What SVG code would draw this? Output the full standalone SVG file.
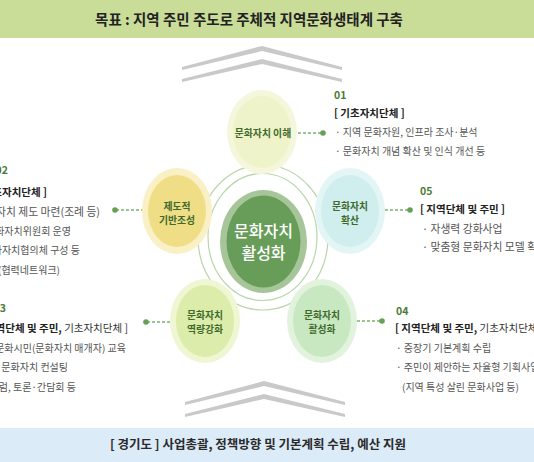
<svg xmlns="http://www.w3.org/2000/svg" width="534" height="462" viewBox="0 0 534 462">
<defs>
<style>
text{font-family:"Noto Sans CJK KR","Noto Sans",sans-serif;}
.title{font-size:14.5px;font-weight:bold;fill:#222;}
.foot{font-size:12.5px;font-weight:bold;fill:#2a2a2a;}
.num{font-size:10.5px;font-weight:bold;fill:#4b7a36;}
.hd{font-size:10.5px;font-weight:bold;fill:#222;}
.rg{font-weight:normal;fill:#333;}
.body{font-size:10px;fill:#555;}
.big{font-size:10.8px;}
.lbl{font-size:9.8px;font-weight:bold;fill:#3f6a2c;text-anchor:middle;}
.ctr{font-size:16px;fill:#fff;text-anchor:middle;font-weight:500;}
.ring{fill:none;stroke:#b9d6ac;stroke-width:1.2;}
.dash{stroke:#7fb070;stroke-width:1.3;stroke-dasharray:3 2;fill:none;}
.dot{fill:#66a055;}
.chev{fill:#c9c9c9;}
</style>
</defs>
<rect width="534" height="462" fill="#fff"/>
<g id="goal">
<rect x="0" y="0" width="534" height="38" fill="#c9dd99"/>
<text class="title" x="249" y="25" text-anchor="middle">목표 : 지역 주민 주도로 주체적 지역문화생태계 구축</text>
</g>
<g id="chevrons">
<polygon class="chev" points="182,67 262,46 342,67 342,70 262,51 182,70"/>
<polygon class="chev" points="182,79 262,59 342,79 342,82 262,64 182,82"/>
<polygon class="chev" points="185,402 264,381 345,402 345,405 264,386 185,405"/>
<polygon class="chev" points="185,414 264,394 345,414 345,417 264,399 185,417"/>
</g>
<g id="rings">
<ellipse class="ring" cx="263" cy="237.5" rx="65" ry="72.5"/>
<ellipse class="ring" cx="262.5" cy="237" rx="54.5" ry="63.5"/>
</g>
<g id="connectors">
<line class="dash" x1="293" y1="133" x2="322" y2="133"/>
<circle class="dot" cx="323" cy="133" r="2.8"/>
<line class="dash" x1="116" y1="210" x2="143" y2="210"/>
<circle class="dot" cx="115" cy="210" r="2.8"/>
<line class="dash" x1="380" y1="210" x2="409" y2="210"/>
<circle class="dot" cx="410" cy="210" r="2.8"/>
<line class="dash" x1="147" y1="322" x2="176" y2="322"/>
<circle class="dot" cx="146" cy="322" r="2.8"/>
<line class="dash" x1="352" y1="321" x2="381" y2="321"/>
<circle class="dot" cx="382" cy="321" r="2.8"/>
</g>
<g id="center">
<ellipse cx="263.5" cy="241.5" rx="43.5" ry="51.5" fill="#a6c699"/>
<ellipse cx="263.5" cy="241.5" rx="37" ry="46" fill="#679d58"/>
<text class="ctr" x="263.5" y="237">문화자치</text>
<text class="ctr" x="263.5" y="259">활성화</text>
</g>
<g id="node1">
<ellipse cx="262" cy="132" rx="35" ry="42" fill="#f5f7dc"/>
<ellipse cx="262" cy="132" rx="29" ry="36" fill="#eff3c9"/>
<text class="lbl" x="263" y="136.5">문화자치 이해</text>
</g>
<g id="node2">
<ellipse cx="177" cy="211" rx="35" ry="43" fill="#faf0c6"/>
<ellipse cx="177" cy="211" rx="29" ry="36" fill="#f0de86"/>
<text class="lbl" x="177" y="209.5">제도적</text>
<text class="lbl" x="177" y="223.5">기반조성</text>
</g>
<g id="node5">
<ellipse cx="350" cy="211" rx="35" ry="43" fill="#e3f5f5"/>
<ellipse cx="350" cy="211" rx="29" ry="36" fill="#d0eeee"/>
<text class="lbl" x="350" y="209.5">문화자치</text>
<text class="lbl" x="350" y="223.5">확산</text>
</g>
<g id="node3">
<ellipse cx="205" cy="321" rx="35" ry="42" fill="#eef6d2"/>
<ellipse cx="205" cy="321" rx="29" ry="36" fill="#dcecaa"/>
<text class="lbl" x="205" y="318.5">문화자치</text>
<text class="lbl" x="205" y="332.5">역량강화</text>
</g>
<g id="node4">
<ellipse cx="322" cy="321" rx="35" ry="42" fill="#e1f3dd"/>
<ellipse cx="322" cy="321" rx="29" ry="36" fill="#c8e8c1"/>
<text class="lbl" x="322" y="318.5">문화자치</text>
<text class="lbl" x="322" y="332.5">활성화</text>
</g>
<g id="block1">
<text class="num" x="334" y="99">01</text>
<text class="hd" x="334" y="117">[ 기초자치단체 ]</text>
<text class="body" x="335" y="136">· 지역 문화자원, 인프라 조사·분석</text>
<text class="body" x="335" y="155">· 문화자치 개념 확산 및 인식 개선 등</text>
</g>
<g id="block2" text-anchor="end">
<text class="num" x="8" y="174">02</text>
<text class="hd" x="47" y="196">[ 기초자치단체 ]</text>
<text class="body big" x="100" y="216">· 문화자치 제도 마련(조례 등)</text>
<text class="body" x="71" y="235">· 문화자치위원회 운영</text>
<text class="body" x="80" y="254">· 문화자치협의체 구성 등</text>
<text class="body" x="60" y="274">(협력네트워크)</text>
</g>
<g id="block5">
<text class="num" x="420" y="195">05</text>
<text class="hd" x="420" y="213">[ 지역단체 및 주민 ]</text>
<text class="body big" x="422" y="233">· 자생력 강화사업</text>
<text class="body big" x="422" y="251">· 맞춤형 문화자치 모델 확산</text>
</g>
<g id="block3" text-anchor="end">
<text class="num" x="6" y="312">03</text>
<text class="hd" x="128" y="332">[ 지역단체 및 주민, <tspan class="rg">기초자치단체 ]</tspan></text>
<text class="body" x="126" y="352">· 문화시민(문화자치 매개자) 교육</text>
<text class="body" x="68" y="371">· 문화자치 컨설팅</text>
<text class="body" x="76" y="391">· 포럼, 토론·간담회 등</text>
</g>
<g id="block4">
<text class="num" x="396" y="315">04</text>
<text class="hd" x="395" y="332">[ 지역단체 및 주민, <tspan class="rg">기초자치단체 ]</tspan></text>
<text class="body" x="396" y="352">· 중장기 기본계획 수립</text>
<text class="body" x="396" y="371">· 주민이 제안하는 자율형 기획사업</text>
<text class="body" x="402" y="391">(지역 특성 살린 문화사업 등)</text>
</g>
<g id="gyeonggi">
<rect x="0" y="428" width="534" height="34" fill="#dcebf8"/>
<text class="foot" x="258" y="449" text-anchor="middle">[ 경기도 ] 사업총괄, 정책방향 및 기본계획 수립, 예산 지원</text>
</g>
</svg>
